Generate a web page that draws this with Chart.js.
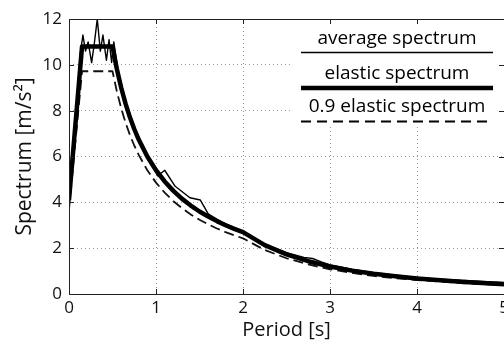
<!DOCTYPE html>
<html>
<head>
<meta charset="utf-8">
<script src="https://cdn.jsdelivr.net/npm/chart.js@4"></script>
<style>
  html, body { margin: 0; padding: 0; background: #fff; }
  canvas { display: block; }
</style>
</head>
<body>
<canvas id="myChart" width="504" height="344"></canvas>
<script>
// elastic spectrum
const elasticPeriod = [0, 0.15, 0.5, 0.55, 0.6, 0.65, 0.7, 0.75, 0.8, 0.9, 1.0, 1.1, 1.2, 1.3, 1.4, 1.5, 1.6, 1.7, 1.8, 1.9, 2.0, 2.25, 2.5, 2.75, 3.0, 3.25, 3.5, 3.75, 4.0, 4.5, 5.0];
const elasticValue = [4.1, 10.8, 10.8, 9.82, 9.0, 8.31, 7.71, 7.2, 6.75, 6.0, 5.4, 4.91, 4.5, 4.15, 3.86, 3.6, 3.38, 3.18, 3.0, 2.84, 2.7, 2.13, 1.73, 1.43, 1.2, 1.02, 0.88, 0.77, 0.68, 0.53, 0.43];
const reducedValue = [3.69, 9.72, 9.72, 8.84, 8.1, 7.48, 6.94, 6.48, 6.08, 5.4, 4.86, 4.42, 4.05, 3.74, 3.47, 3.24, 3.04, 2.86, 2.7, 2.56, 2.43, 1.92, 1.56, 1.29, 1.08, 0.92, 0.79, 0.69, 0.61, 0.48, 0.39];

// average spectrum
const averagePeriod = [0, 0.13, 0.16, 0.19, 0.22, 0.26, 0.29, 0.325, 0.36, 0.39, 0.43, 0.46, 0.49, 0.515, 0.56, 0.65, 0.75, 0.85, 0.95, 1.02, 1.1, 1.22, 1.39, 1.51, 1.6, 1.75, 1.9, 2.0, 2.1, 2.3, 2.5, 2.7, 2.8, 2.9, 3.0, 3.25, 3.5, 3.75, 4.0, 4.25, 4.5, 4.75, 5.0];
const averageValue = [4.0, 10.5, 11.3, 10.6, 11.0, 10.1, 10.9, 12.0, 10.6, 11.3, 10.2, 11.1, 10.1, 11.0, 9.8, 8.4, 7.3, 6.4, 5.7, 5.15, 5.4, 4.7, 4.2, 4.1, 3.5, 3.15, 2.9, 2.72, 2.45, 2.1, 1.8, 1.6, 1.55, 1.4, 1.27, 1.08, 0.93, 0.82, 0.72, 0.65, 0.6, 0.55, 0.5];

const legendLabels = ['average spectrum', 'elastic spectrum', '0.9 elastic spectrum'];
const xTicks = [0, 1, 2, 3, 4, 5];
const yTicks = [0, 2, 4, 6, 8, 10, 12];

const toPoints = (xs, ys) => xs.map((t, i) => ({ x: t, y: ys[i] }));

const framePlugin = {
  id: 'frame',
  afterDraw(chart) {
    const { ctx, chartArea: a, scales: { x, y } } = chart;
    ctx.save();

    // legend box (covers the grid)
    const lx = 292;
    ctx.fillStyle = '#fff';
    ctx.fillRect(lx, a.top, a.right - lx, 108);
    ctx.fillStyle = '#000';
    ctx.font = '19px "Open Sans"';
    ctx.textAlign = 'center';
    ctx.textBaseline = 'middle';
    const rows = [
      { ty: 39, ly: 52.5, w: 1.5, dash: [] },
      { ty: 74, ly: 88, w: 4.5, dash: [] },
      { ty: 107, ly: 121.5, w: 2, dash: [10, 6] }
    ];
    rows.forEach((r, i) => {
      ctx.fillText(legendLabels[i], 397, r.ty);
      ctx.beginPath();
      ctx.setLineDash(r.dash);
      ctx.lineWidth = r.w;
      ctx.strokeStyle = '#000';
      ctx.moveTo(301, r.ly);
      ctx.lineTo(493, r.ly);
      ctx.stroke();
    });
    ctx.setLineDash([]);

    // axes box with inward ticks
    ctx.strokeStyle = '#222';
    ctx.lineWidth = 1;
    ctx.strokeRect(a.left + 0.5, a.top + 0.5, a.right - a.left, a.bottom - a.top);
    ctx.beginPath();
    xTicks.forEach(v => {
      const px = Math.round(x.getPixelForValue(v)) + 0.5;
      ctx.moveTo(px, a.bottom); ctx.lineTo(px, a.bottom - 5);
      ctx.moveTo(px, a.top); ctx.lineTo(px, a.top + 5);
    });
    yTicks.forEach(v => {
      const py = Math.round(y.getPixelForValue(v)) + 0.5;
      ctx.moveTo(a.left, py); ctx.lineTo(a.left + 5, py);
      ctx.moveTo(a.right, py); ctx.lineTo(a.right - 5, py);
    });
    ctx.stroke();
    ctx.restore();
  }
};

const data = {
  datasets: [
    {
      label: legendLabels[0],
      data: toPoints(averagePeriod, averageValue),
      borderColor: '#000',
      borderWidth: 1.4
    },
    {
      label: legendLabels[1],
      data: toPoints(elasticPeriod, elasticValue),
      borderColor: '#000',
      borderWidth: 4.5
    },
    {
      label: legendLabels[2],
      data: toPoints(elasticPeriod, reducedValue),
      borderColor: '#111',
      borderWidth: 1.8,
      borderDash: [10, 5]
    }
  ]
};

const gridColor = ctx => (ctx.tick && ctx.index > 0 && ctx.index < ctx.chart.scales[ctx.scale.id].ticks.length - 1) ? '#999' : 'rgba(0,0,0,0)';

const config = {
  type: 'line',
  data,
  options: {
    responsive: false,
    animation: false,
    events: [],
    layout: { padding: { top: 19, right: 0, left: 0, bottom: 0 } },
    elements: {
      point: { radius: 0 },
      line: { tension: 0, borderJoinStyle: 'round' }
    },
    plugins: {
      legend: { display: false },
      tooltip: { enabled: false }
    },
    scales: {
      x: {
        type: 'linear',
        min: 0,
        max: 5,
        ticks: {
          stepSize: 1,
          padding: 4,
          maxRotation: 0,
          color: '#111',
          font: { family: 'Open Sans', size: 17 }
        },
        grid: { color: gridColor, drawTicks: false, lineWidth: 1 },
        border: { display: false, dash: [1, 3] },
        title: {
          display: true,
          text: 'Period [s]',
          color: '#111',
          font: { family: 'Open Sans', size: 20 },
          padding: { top: 0, bottom: 2 }
        },
        afterFit(scale) { scale.height = 50; scale.paddingLeft = 0; scale.paddingRight = 0; }
      },
      y: {
        min: 0,
        max: 12,
        ticks: {
          stepSize: 2,
          padding: 7,
          color: '#111',
          font: { family: 'Open Sans', size: 17 }
        },
        grid: { color: gridColor, drawTicks: false, lineWidth: 1 },
        border: { display: false, dash: [1, 3] },
        title: {
          display: true,
          text: 'Spectrum [m/s²]',
          color: '#111',
          font: { family: 'Open Sans', size: 21 },
          padding: { top: 12, bottom: 0 }
        },
        afterFit(scale) { scale.width = 69; scale.paddingTop = 0; scale.paddingBottom = 0; }
      }
    }
  },
  plugins: [framePlugin]
};

new Chart(document.getElementById('myChart').getContext('2d'), config);
</script>
</body>
</html>
